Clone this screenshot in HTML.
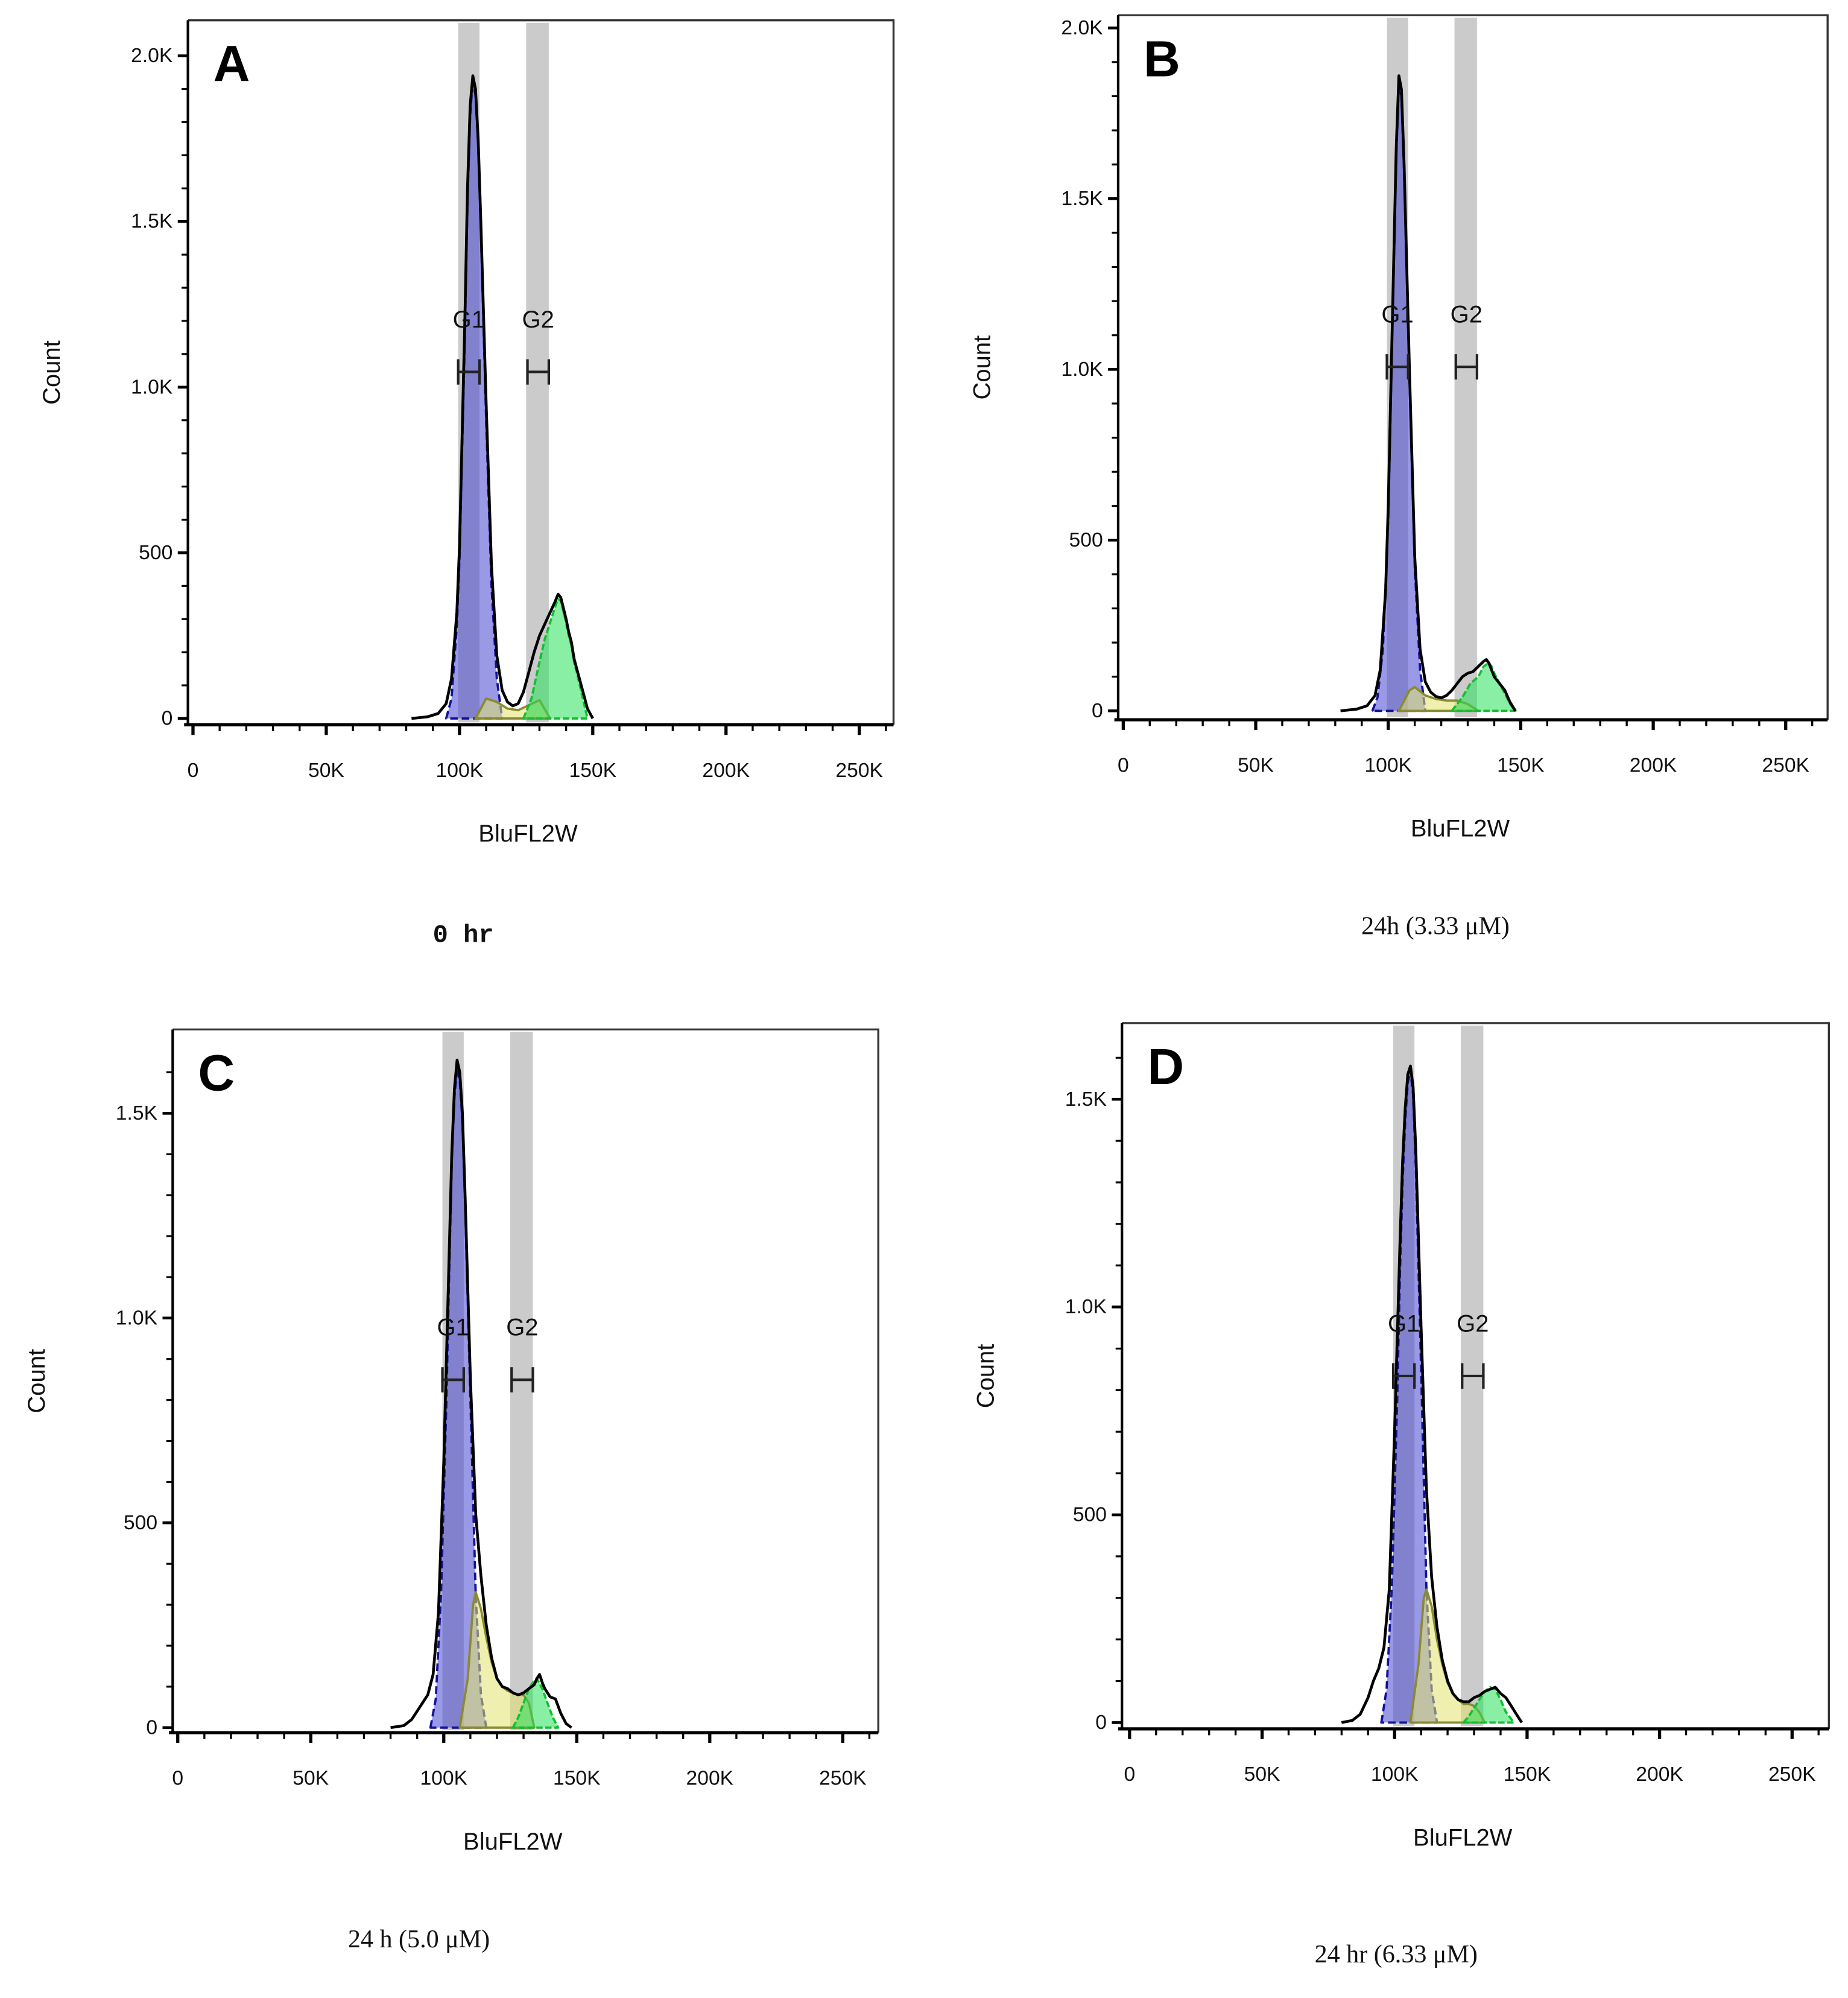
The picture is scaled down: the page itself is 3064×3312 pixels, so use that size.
<!DOCTYPE html>
<html><head><meta charset="utf-8"><style>
html,body{margin:0;padding:0;background:#fff}
svg{display:block}
text{font-family:"Liberation Sans",sans-serif}
</style></head><body>
<svg id="fig" width="3064" height="3312" viewBox="0 0 1456 1574" xmlns="http://www.w3.org/2000/svg"></svg>
<script>
// ---- data (x in K units of BluFL2W, y in counts) ----
const aTotalX=[82,88,92,95,97,99,100,102,103,104,105,106,107,108,110,112,114,116,118,120,122,124,126,128,130,132,134,136,137,138,140,141,142,143,144,146,148,150];
const aTotalY=[0,5,15,45,120,320,520,1200,1600,1850,1940,1900,1750,1500,950,460,190,85,50,38,45,80,140,200,250,285,320,355,375,365,300,260,230,180,150,90,30,0];
const aG1X=[95,97,99,100,102,103,104,105,106,107,108,110,112,114,116];
const aG1Y=[0,60,280,480,1150,1560,1820,1930,1880,1730,1480,900,400,120,0];
const aSX=[106,110,114,118,122,126,130,134];
const aSY=[0,60,50,30,25,40,55,0];
const aG2X=[124,127,130,132,134,136,137,138,140,141,142,143,144,146,148];
const aG2Y=[0,60,170,240,290,340,360,355,290,250,220,170,140,70,0];

const bTotalX=[82,88,92,95,97,99,100,101,102,103,104,105,106,107,108,110,112,114,116,118,120,122,124,126,128,130,132,134,136,137,138,139,140,142,144,146,148];
const bTotalY=[0,5,15,45,120,350,600,950,1300,1650,1860,1820,1600,1300,1000,450,180,85,55,42,38,45,60,80,100,110,115,130,145,150,140,120,100,80,60,25,0];
const bG1X=[94,96,98,100,101,102,103,104,105,106,107,108,110,112,114];
const bG1Y=[0,40,180,560,920,1270,1620,1840,1800,1580,1280,980,420,120,0];
const bSX=[104,108,110,114,118,122,126,130,134];
const bSY=[0,60,70,45,35,30,30,20,0];
const bG2X=[124,128,131,134,136,138,139,140,142,144,146,148];
const bG2Y=[0,40,80,100,130,140,130,110,80,50,20,0];

const cTotalX=[80,85,88,90,92,94,96,98,100,102,103,104,105,106,107,108,110,112,114,116,118,120,122,124,126,128,130,132,134,135,136,137,138,140,142,144,146,148];
const cTotalY=[0,5,20,40,60,80,130,280,650,1150,1400,1560,1630,1600,1500,1300,850,520,370,250,170,120,100,95,85,80,85,95,105,120,130,110,95,75,70,35,10,0];
const cG1X=[95,97,99,101,102,103,104,105,106,107,108,110,112,114,116];
const cG1Y=[0,70,330,800,1100,1380,1540,1610,1580,1480,1280,800,320,80,0];
const cSX=[106,109,111,112,114,116,118,120,122,124,126,128,130,132,134];
const cSY=[0,120,300,330,290,220,160,120,100,90,85,80,80,60,0];
const cG2X=[126,128,130,132,134,135,137,139,141,143];
const cG2Y=[0,25,60,95,115,120,95,60,25,0];

const dTotalX=[80,84,87,90,92,94,96,98,100,102,103,104,105,106,107,108,110,112,114,116,118,120,122,124,126,128,130,132,134,136,138,140,142,144,146,148];
const dTotalY=[0,5,20,60,100,130,180,320,700,1150,1350,1480,1560,1580,1530,1380,950,560,350,230,150,100,70,55,50,50,60,65,75,80,85,70,60,40,20,0];
const dG1X=[95,97,99,101,102,103,104,105,106,107,108,110,112,114,116];
const dG1Y=[0,80,330,780,1080,1300,1450,1540,1570,1510,1340,850,320,80,0];
const dSX=[106,109,111,112,114,116,118,120,122,124,126,128,130,132,134];
const dSY=[0,140,300,320,280,200,140,95,70,55,45,45,40,25,0];
const dG2X=[126,128,130,132,134,136,138,140,142,145];
const dG2Y=[0,15,35,55,75,85,80,55,25,0];

const xTicks=[0,50,100,150,200,250];
const xTickLabels=["0","50K","100K","150K","200K","250K"];

// ---- panel layout (pixels in 1456x1574 view) ----
const panels=[
 {id:"a",letter:"A",L:148,T:16,R:704,B:571,x0:152,x250:677,y0:566,yTop:44,yTopVal:2000,yMax:2000,
  tot:[aTotalX,aTotalY],g1:[aG1X,aG1Y],s:[aSX,aSY],g2:[aG2X,aG2Y],
  yTicks:[0,500,1000,1500,2000],yLabels:["0","500","1.0K","1.5K","2.0K"],gy:252,hy:293,
  cap:"0 hr",capX:365,capY:742,capFont:'bold 20px "Liberation Mono",monospace'},
 {id:"b",letter:"B",L:881,T:12,R:1440,B:567,x0:885,x250:1407,y0:560,yTop:22,yTopVal:2000,yMax:2000,
  tot:[bTotalX,bTotalY],g1:[bG1X,bG1Y],s:[bSX,bSY],g2:[bG2X,bG2Y],
  yTicks:[0,500,1000,1500,2000],yLabels:["0","500","1.0K","1.5K","2.0K"],gy:248,hy:289,
  cap:"24h (3.33 \u03bcM)",capX:1131,capY:736,capFont:'20px "Liberation Serif",serif'},
 {id:"c",letter:"C",L:136,T:811,R:692,B:1365,x0:140,x250:664,y0:1361,yTop:877,yTopVal:1500,yMax:1700,
  tot:[cTotalX,cTotalY],g1:[cG1X,cG1Y],s:[cSX,cSY],g2:[cG2X,cG2Y],
  yTicks:[0,500,1000,1500],yLabels:["0","500","1.0K","1.5K"],gy:1046,hy:1087,
  cap:"24 h (5.0  \u03bcM)",capX:330,capY:1534,capFont:'20px "Liberation Serif",serif'},
 {id:"d",letter:"D",L:884,T:806,R:1441,B:1362,x0:890,x250:1412,y0:1357,yTop:866,yTopVal:1500,yMax:1700,
  tot:[dTotalX,dTotalY],g1:[dG1X,dG1Y],s:[dSX,dSY],g2:[dG2X,dG2Y],
  yTicks:[0,500,1000,1500],yLabels:["0","500","1.0K","1.5K"],gy:1043,hy:1084,
  cap:"24 hr (6.33  \u03bcM)",capX:1100,capY:1546,capFont:'20px "Liberation Serif",serif'}
];
const NS="http://www.w3.org/2000/svg";
const svg=document.getElementById('fig');
function mk(tag,attrs,parent){const e=document.createElementNS(NS,tag);for(const k in attrs)e.setAttribute(k,attrs[k]);(parent||svg).appendChild(e);return e;}

panels.forEach(p=>{
 const g=mk('g',{});
 
 
 const sx=v=>p.x0+(p.x250-p.x0)*v/250;
 const sy=v=>p.y0-(p.y0-p.yTop)*v/p.yTopVal;
 [[99.5,107.5,'g1'],[125,133.5,'g2']].forEach(b=>{
  const r=mk('rect',{x:sx(b[0]),y:p.T+2,width:sx(b[1])-sx(b[0]),height:p.B-p.T-4,fill:'#cbcbcb'},g);
  
  
 });
 function area(arr,fill,stroke,name,dash){
  let d='M'+sx(arr[0][0])+','+sy(0);
  arr[0].forEach((x,i)=>{d+=' L'+sx(x).toFixed(1)+','+sy(arr[1][i]).toFixed(1);});
  d+=' L'+sx(arr[0][arr[0].length-1])+','+sy(0)+' Z';
  const e=mk('path',{d:d,fill:fill,stroke:stroke,'stroke-width':1.8,'stroke-dasharray':dash||'none','stroke-linejoin':'round'},g);
  
  
 }
 area(p.g1,'rgba(70,70,210,0.55)','#12129a','g1-fit','6,3');
 area(p.s,'rgba(225,225,110,0.55)','#8a8a30','s-phase-fit');
 area(p.g2,'rgba(40,225,90,0.55)','#10c030','g2-fit','5,2');
 let d='';
 p.tot[0].forEach((x,i)=>{d+=(i?' L':'M')+sx(x).toFixed(1)+','+sy(p.tot[1][i]).toFixed(1);});
 const tl=mk('path',{d:d,fill:'none',stroke:'#000','stroke-width':2.2,'stroke-linejoin':'round'},g);
 
 
 const fr=mk('path',{d:`M${p.L},${p.T} H${p.R} V${p.B} M${p.L},${p.T} V${p.B} H${p.R}`,fill:'none',stroke:'#333','stroke-width':1.6},g);
 
 
 mk('line',{x1:p.L-3,y1:p.B,x2:p.R,y2:p.B,stroke:'#000','stroke-width':2.5},g);
 mk('line',{x1:p.L,y1:p.T,x2:p.L,y2:p.B,stroke:'#000','stroke-width':2},g);
 for(let v=0;v<=260;v+=10){
  const major=v%50===0;
  mk('line',{x1:sx(v),y1:p.B,x2:sx(v),y2:p.B+(major?8:5),stroke:'#000','stroke-width':major?2.5:1.6},g);
 }
 xTicks.forEach((v,i)=>{
  const t=mk('text',{x:sx(v),y:p.B+41,'text-anchor':'middle','font-size':16,fill:'#111'},g);
  t.textContent=xTickLabels[i];
  
  
 });
 for(let v=0;v<=p.yMax;v+=100){
  const y=sy(v); if(y<p.T+3)break;
  const major=v%500===0;
  mk('line',{x1:p.L-(major?8:5),y1:y,x2:p.L,y2:y,stroke:'#000','stroke-width':major?2.2:1.5},g);
 }
 p.yTicks.forEach((v,i)=>{
  const t=mk('text',{x:p.L-12,y:sy(v)+5,'text-anchor':'end','font-size':16,fill:'#111'},g);
  t.textContent=p.yLabels[i];
  
  
 });
 const xt=mk('text',{x:(p.L+p.R)/2-10,y:p.B+92,'text-anchor':'middle','font-size':19,fill:'#111'},g);
 xt.textContent='BluFL2W';
 
 
 const ym=(p.T+p.B)/2;
 const yt=mk('text',{x:p.L-108,y:ym+7,'text-anchor':'middle','font-size':19,fill:'#111',transform:`rotate(-90 ${p.L-108} ${ym})`},g);
 yt.textContent='Count';
 
 
 const lt=mk('text',{x:p.L+20,y:p.T+48,'font-size':40,'font-weight':'bold',fill:'#000'},g);
 lt.textContent=p.letter;
 
 
 [['G1',99.5,107.5],['G2',125.5,133.5]].forEach(m=>{
  const cx=(sx(m[1])+sx(m[2]))/2;
  const gt=mk('text',{x:cx,y:p.gy+6,'text-anchor':'middle','font-size':19,fill:'#111'},g);
  gt.textContent=m[0];
  
  
  const hm=mk('path',{d:`M${sx(m[1])},${p.hy-10} V${p.hy+10} M${sx(m[1])},${p.hy} H${sx(m[2])} M${sx(m[2])},${p.hy-10} V${p.hy+10}`,stroke:'#222','stroke-width':2,fill:'none'},g);
  
  
 });
 const cp=mk('text',{x:p.capX,y:p.capY,'text-anchor':'middle',fill:'#111',style:'font:'+p.capFont},g);
 cp.textContent=p.cap;
 
 
});
</script>
</body></html>
